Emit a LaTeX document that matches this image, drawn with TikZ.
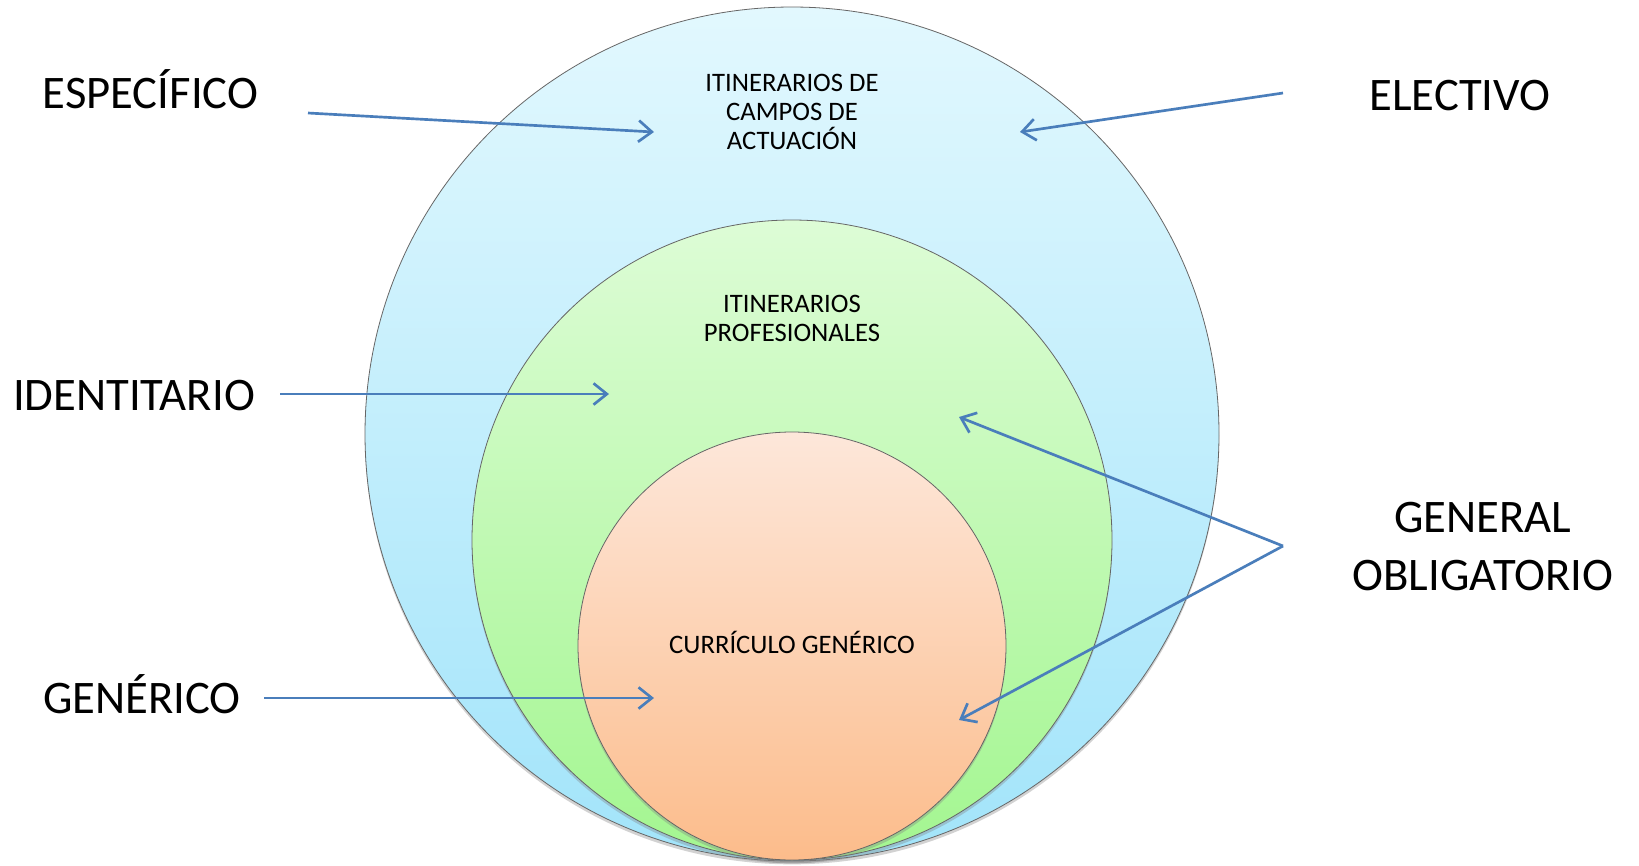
\documentclass[tikz,border=0pt]{standalone}
\usepackage{fontspec}
\setmainfont{Carlito}
\usepackage{tikz}
\usetikzlibrary{arrows.meta,shadows}

\definecolor{azulclaro}{HTML}{E2F8FE}
\definecolor{azulfuerte}{HTML}{A2E4FA}
\definecolor{verdeclaro}{HTML}{DDFCD6}
\definecolor{verdefuerte}{HTML}{A3F690}
\definecolor{naranjaclaro}{HTML}{FDE7DA}
\definecolor{naranjafuerte}{HTML}{FCBC8B}
\definecolor{flechaazul}{HTML}{4A7EBB}

\tikzset{
  capa/.style={circle, draw=black!60, line width=0.6pt, inner sep=0pt,
    drop shadow={shadow xshift=0pt, shadow yshift=-2.5pt, opacity=0.35}},
  rotulo/.style={font=\fontsize{20}{21.75}\selectfont, align=center, inner sep=0.75pt},
  etiqueta/.style={font=\fontsize{35}{43}\selectfont, align=center, inner sep=0.75pt},
  flecha/.style={draw=flechaazul, line width=2pt, -{Straight Barb[length=10pt,width=16pt]}}
}

\begin{document}
\begin{tikzpicture}[x=0.75pt,y=0.75pt,yscale=-1,xscale=1]
        \path[use as bounding box, fill=white] (0,0) rectangle (1639,865);

        % the three nested circles
        \node[capa, minimum size=640.5pt, top color=azulclaro, bottom color=azulfuerte] (externo) at (792,434) {};
        \node[capa, minimum size=480pt, top color=verdeclaro, bottom color=verdefuerte] (medio) at (792,540) {};
        \node[capa, minimum size=321pt, top color=naranjaclaro, bottom color=naranjafuerte] (interno) at (792,646) {};

        % texts inside
        \draw (792,112) node [rotulo] (campos) {ITINERARIOS DE\\CAMPOS DE\\ACTUACIÓN};
        \draw (792,318.5) node [rotulo] (profesionales) {ITINERARIOS\\PROFESIONALES};
        \draw (792,653) node [rotulo, anchor=base] (curriculo) {CURRÍCULO GENÉRICO};

        % labels outside
        \draw (150.5,108) node [etiqueta, anchor=base] (especifico) {ESPECÍFICO};
        \draw (134,410) node [etiqueta, anchor=base] (identitario) {IDENTITARIO};
        \draw (142,713) node [etiqueta, anchor=base] (generico) {GENÉRICO};
        \draw (1460,110) node [etiqueta, anchor=base] (electivo) {ELECTIVO};
        \draw (1483,546.5) node [etiqueta] (general) {GENERAL\\OBLIGATORIO};

        % arrow ends
        \coordinate (esp-a) at (308,113);
        \coordinate (esp-b) at (654,132);
        \coordinate (ele-a) at (1283,93);
        \coordinate (ele-b) at (1020,132);
        \coordinate (ide-a) at (280,394);
        \coordinate (ide-b) at (609,394);
        \coordinate (gen-a) at (264,698);
        \coordinate (gen-b) at (654,698);
        \coordinate (apice) at (1283,546);
        \coordinate (obl-sup) at (959,417);
        \coordinate (obl-inf) at (959,720);

        \draw[flecha] (esp-a) -- (esp-b);
        \draw[flecha] (ele-a) -- (ele-b);
        \draw[flecha] (ide-a) -- (ide-b);
        \draw[flecha] (gen-a) -- (gen-b);
        \draw[flecha] (apice) -- (obl-sup);
        \draw[flecha] (apice) -- (obl-inf);
\end{tikzpicture}
\end{document}
